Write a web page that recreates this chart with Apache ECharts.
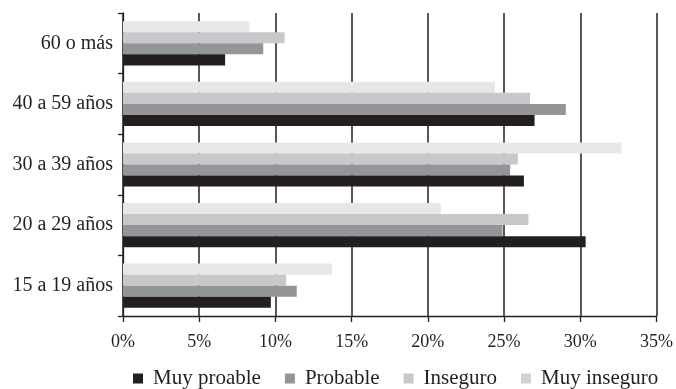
<!DOCTYPE html>
<html><head><meta charset="utf-8">
<script src="https://cdn.jsdelivr.net/npm/echarts@6/dist/echarts.min.js"></script>
<style>html,body{margin:0;padding:0;background:#fff}#c{width:676px;height:389px}</style>
</head><body><div id="c"></div>
<script>
const categories = ['15 a 19 años', '20 a 29 años', '30 a 39 años', '40 a 59 años', '60 o más'];
const seriesNames = ['Muy proable', 'Probable', 'Inseguro', 'Muy inseguro'];
const muyProable = [9.7, 30.35, 26.3, 27.0, 6.7];
const probable = [11.4, 24.9, 25.4, 29.05, 9.2];
const inseguro = [10.7, 26.6, 25.9, 26.7, 10.6];
const muyInseguro = [13.7, 20.85, 32.7, 24.4, 8.3];
const xTicks = [0, 5, 10, 15, 20, 25, 30, 35];
const colors = ['#231f20', '#939598', '#c7c8ca', '#e6e7e8'];
const values = [muyProable, probable, inseguro, muyInseguro];
const font = 'Liberation Serif';
const chart = echarts.init(document.getElementById('c'));
// ECharts stacks horizontal bar series top-down, so draw them in reverse order
const order = [3, 2, 1, 0];
chart.setOption({
  animation: false,
  textStyle: { fontFamily: font },
  grid: { left: 123, right: 18, top: 13, bottom: 73, containLabel: false },
  legend: {
    top: 368, left: 133, padding: 0, icon: 'rect', itemWidth: 10, itemHeight: 10, itemGap: 24,
    textStyle: { fontFamily: font, fontSize: 21, color: '#231f20', padding: [0, 0, 0, 5] },
    data: seriesNames.map((n, i) => ({ name: n, itemStyle: { color: i === 3 ? '#d1d2d4' : colors[i] } }))
  },
  xAxis: {
    type: 'value', min: xTicks[0], max: xTicks[xTicks.length - 1], interval: 5,
    axisLine: { show: true, lineStyle: { color: '#231f20', width: 1.3 } },
    axisTick: { show: true, length: 6, lineStyle: { color: '#231f20', width: 1.3 } },
    axisLabel: { formatter: v => v + '%', fontFamily: font, fontSize: 18, color: '#231f20', margin: 17 },
    splitLine: { show: true, lineStyle: { color: '#231f20', width: 1.5 } }
  },
  yAxis: {
    type: 'category', data: categories,
    axisLine: { show: true, lineStyle: { color: '#231f20', width: 1.3 } },
    axisTick: { show: true, length: 5, lineStyle: { color: '#231f20', width: 1.3 } },
    axisLabel: { fontFamily: font, fontSize: 20, color: '#231f20', margin: 10 }
  },
  series: order.map(i => ({
    name: seriesNames[i], type: 'bar', data: values[i],
    barGap: '0%', barCategoryGap: '27%',
    itemStyle: { color: colors[i] }
  }))
});
</script></body></html>
